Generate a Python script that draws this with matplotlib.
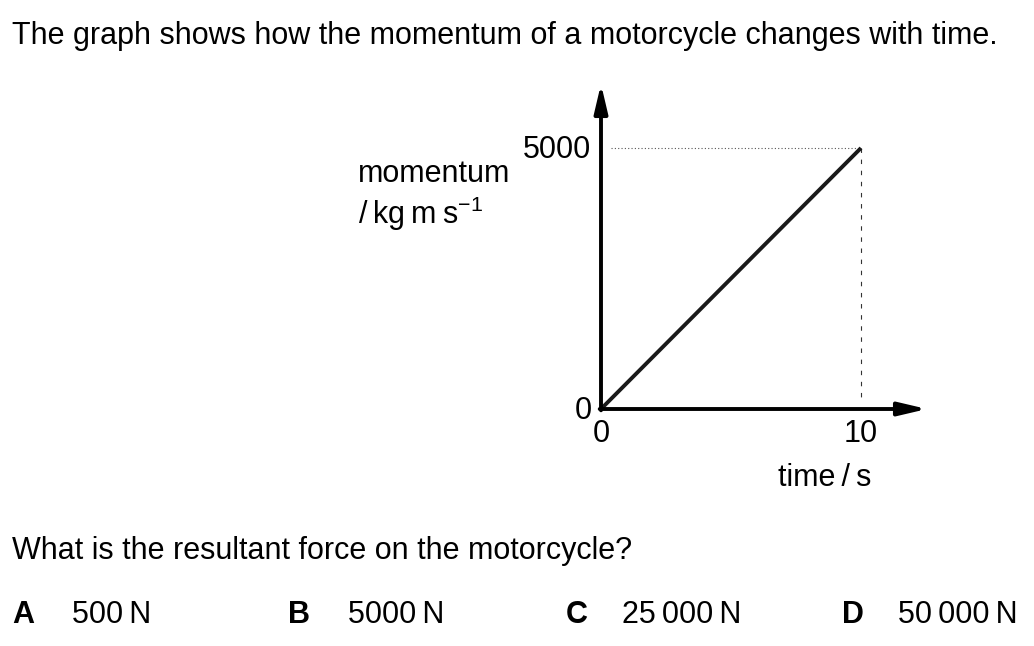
import matplotlib
matplotlib.use("Agg")
import matplotlib.pyplot as plt

plt.rcParams['font.family'] = ['Liberation Sans', 'DejaVu Sans']
plt.rcParams['mathtext.fontset'] = 'custom'
plt.rcParams['mathtext.rm'] = 'Liberation Sans'
plt.rcParams['mathtext.it'] = 'Liberation Sans'

time_s = [0, 10]
momentum = [0, 5000]
x_ticks = [0, 10]
y_ticks = [0, 5000]
options = ["A", "B", "C", "D"]
answers = ["500\u2009N", "5000\u2009N", "25\u2009000\u2009N", "50\u2009000\u2009N"]

W, H = 1034, 646
fig = plt.figure(figsize=(W / 100, H / 100), dpi=100)

# axes placed so origin sits at (601, 409) px, (10, 5000) at (861, 148) px
x0, y0 = 601, 409
px_per_x = 26.0
px_per_y = 261.0 / 5000
xmax = (927 - x0) / px_per_x
ymax = (y0 - 84) / px_per_y
ax = fig.add_axes([x0 / W, (H - y0) / H, (927 - x0) / W, (y0 - 84) / H])
ax.set_xlim(0, xmax)
ax.set_ylim(0, ymax)
ax.axis('off')

# axes arrows
arrow = dict(arrowstyle="-|>,head_length=1.7,head_width=0.4", lw=2.8, color="black",
             shrinkA=0, shrinkB=0)
ax.annotate("", xy=(xmax, 0), xytext=(-0.05, 0), annotation_clip=False, arrowprops=arrow)
ax.annotate("", xy=(0, ymax), xytext=(0, -25), annotation_clip=False, arrowprops=arrow)

# guide lines
ax.plot([0.4, time_s[1]], [momentum[1], momentum[1]], color="#555555", lw=0.8, ls=(0, (1, 2)))
ax.plot([time_s[1], time_s[1]], [momentum[1], 150], color="#333333", lw=0.8, ls=(0, (4, 6)))

# data line
ax.plot(time_s, momentum, color="#1a1a1a", lw=2.8, solid_capstyle="butt")

fs = 22
for t in x_ticks:
    ax.text(t, -480, str(t), ha="center", va="center", fontsize=fs, clip_on=False)
ax.text(-0.35, y_ticks[0] - 40, str(y_ticks[0]), ha="right", va="center", fontsize=fs, clip_on=False)
ax.text(-0.4, y_ticks[1] - 40, str(y_ticks[1]), ha="right", va="center", fontsize=fs, clip_on=False)

ax.text(8.6, -1330, "time\u2009/\u2009s", ha="center", va="center", fontsize=fs, clip_on=False)
fig.text(358 / W, 1 - 174 / H, "momentum", ha="left", va="center", fontsize=fs)
fig.text(358 / W, 1 - 214 / H, "/\u2009kg\u2009m\u2009s$^{-1}$", ha="left", va="center", fontsize=fs)

fig.text(12 / W, 1 - 36 / H, "The graph shows how the momentum of a motorcycle changes with time.",
         ha="left", va="center", fontsize=fs)
fig.text(12 / W, 1 - 551 / H, "What is the resultant force on the motorcycle?",
         ha="left", va="center", fontsize=fs)

letter_x = [12, 288, 566, 842]
answer_x = [72, 348, 622, 898]
for lx, axx, letter, ans in zip(letter_x, answer_x, options, answers):
    fig.text(lx / W, 1 - 615 / H, letter, ha="left", va="center", fontsize=fs, fontweight="bold")
    fig.text(axx / W, 1 - 615 / H, ans, ha="left", va="center", fontsize=fs)

fig.savefig("out.png", dpi=100, facecolor="white")
